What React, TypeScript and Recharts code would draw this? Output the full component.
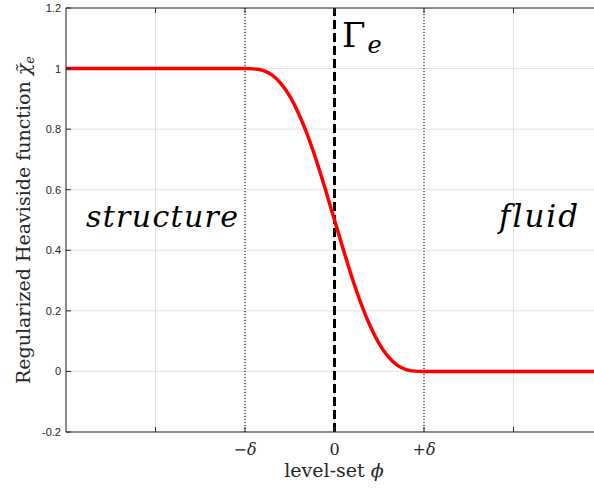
import { CartesianGrid, Customized, Line, LineChart, ReferenceLine, XAxis, YAxis } from 'recharts'

// level-set values (delta = 1) and the regularized Heaviside
const phi = [-3, -2, -1, -0.9, -0.8, -0.7, -0.6, -0.5, -0.4, -0.3, -0.2, -0.1, 0, 0.1, 0.2, 0.3, 0.4, 0.5, 0.6, 0.7, 0.8, 0.9, 1, 2, 3]
const chi = [1, 1, 1, 0.999, 0.994, 0.979, 0.951, 0.909, 0.851, 0.779, 0.694, 0.599, 0.5, 0.401, 0.306, 0.221, 0.149, 0.091, 0.049, 0.021, 0.006, 0.001, 0, 0, 0]

const xTicks = [-2, -1, 0, 1, 2]
const xTickLabels = ['', '−δ', '0', '+δ', '']
const yTicks = [-0.2, 0, 0.2, 0.4, 0.6, 0.8, 1, 1.2]
const yTickLabels = ['-0.2', '0', '0.2', '0.4', '0.6', '0.8', '1', '1.2']

const data = phi.map((p, i) => ({ phi: p, chi: chi[i] }))

const AXIS = '#262626'
const SERIF = '"DejaVu Serif", "Liberation Serif", serif'
const SANS = '"Liberation Sans", Arial, sans-serif'

function XTick(props: any) {
  const { x, y, payload } = props
  const label = xTickLabels[xTicks.indexOf(payload.value)] ?? ''
  const sign = label.slice(0, 1)
  return (
    <g>
      <line x1={x} x2={x} y1={y} y2={y - 5} stroke={AXIS} />
      {label.length > 1 ? (
        <text x={x} y={y + 23} textAnchor="middle" fontFamily={SERIF} fontSize={16} fill={AXIS}>
          {sign}
          <tspan fontStyle="italic">δ</tspan>
        </text>
      ) : (
        <text x={x} y={y + 23} textAnchor="middle" fontFamily={SERIF} fontSize={16} fill={AXIS}>
          {label}
        </text>
      )}
    </g>
  )
}

function TopTick(props: any) {
  const { x, y } = props
  return <line x1={x} x2={x} y1={y} y2={y + 5} stroke={AXIS} />
}

function YTick(props: any) {
  const { x, y, payload } = props
  const label = yTickLabels[yTicks.indexOf(payload.value)] ?? String(payload.value)
  return (
    <g>
      <line x1={x} x2={x + 5} y1={y} y2={y} stroke={AXIS} />
      <text x={x - 5} y={y + 4} textAnchor="end" fontFamily={SANS} fontSize={11} fill={AXIS}>
        {label}
      </text>
    </g>
  )
}

function Annotations() {
  return (
    <g>
      <text x={334} y={477} textAnchor="middle" fontFamily={SERIF} fontSize={19} fill={AXIS}>
        level-set <tspan fontStyle="italic">ϕ</tspan>
      </text>
      <text transform="rotate(-90)" x={-220} y={30} textAnchor="middle" fontFamily={SERIF} fontSize={19} fill={AXIS}>
        Regularized Heaviside function <tspan fontStyle="italic">χ̃</tspan>
        <tspan fontStyle="italic" fontSize={13} dy={4}>e</tspan>
      </text>
      <text x={342} y={47} fontFamily={SERIF} fontSize={34} fill="#000">
        Γ<tspan fontStyle="italic" fontSize={24} dx={2} dy={6}>e</tspan>
      </text>
      <text x={86} y={227} fontFamily={SERIF} fontStyle="italic" fontSize={30} fill="#000" textLength={152} lengthAdjust="spacing">
        structure
      </text>
      <text
        x={499}
        y={227}
        fontFamily={SERIF}
        fontStyle="italic"
        fontSize={31}
        fill="#000"
        letterSpacing={2}
        style={{ fontVariantLigatures: 'none' }}
      >
        fluid
      </text>
    </g>
  )
}

export default function App() {
  return (
    <div style={{ position: 'absolute', left: 0, top: 0, width: 594, height: 488, overflow: 'hidden', background: '#fff' }}>
      <LineChart width={610} height={488} data={data} margin={{ top: 0, right: 7, bottom: 0, left: 0 }}>
        <CartesianGrid stroke="#e3e3e3" />
        <XAxis
          type="number"
          dataKey="phi"
          domain={[-3, 3]}
          ticks={xTicks}
          tick={XTick}
          tickLine={false}
          tickSize={0}
          tickMargin={0}
          height={56}
          axisLine={{ stroke: AXIS }}
          interval={0}
        />
        <XAxis
          xAxisId="top"
          orientation="top"
          type="number"
          dataKey="phi"
          domain={[-3, 3]}
          ticks={xTicks}
          tick={TopTick}
          tickLine={false}
          tickSize={0}
          tickMargin={0}
          height={8}
          axisLine={{ stroke: AXIS }}
          interval={0}
        />
        <YAxis
          type="number"
          domain={[-0.2, 1.2]}
          ticks={yTicks}
          tick={YTick}
          tickLine={false}
          tickSize={0}
          tickMargin={0}
          width={66}
          axisLine={{ stroke: AXIS }}
          interval={0}
        />
        <ReferenceLine x={-1} stroke="#000" strokeWidth={1} strokeDasharray="1 2" />
        <ReferenceLine x={1} stroke="#000" strokeWidth={1} strokeDasharray="1 2" />
        <ReferenceLine x={0} stroke="#000" strokeWidth={3} strokeDasharray="9 4" />
        <Line type="monotone" dataKey="chi" stroke="#ff0000" strokeWidth={3.5} dot={false} isAnimationActive={false} />
        <Customized component={<Annotations />} />
      </LineChart>
    </div>
  )
}
